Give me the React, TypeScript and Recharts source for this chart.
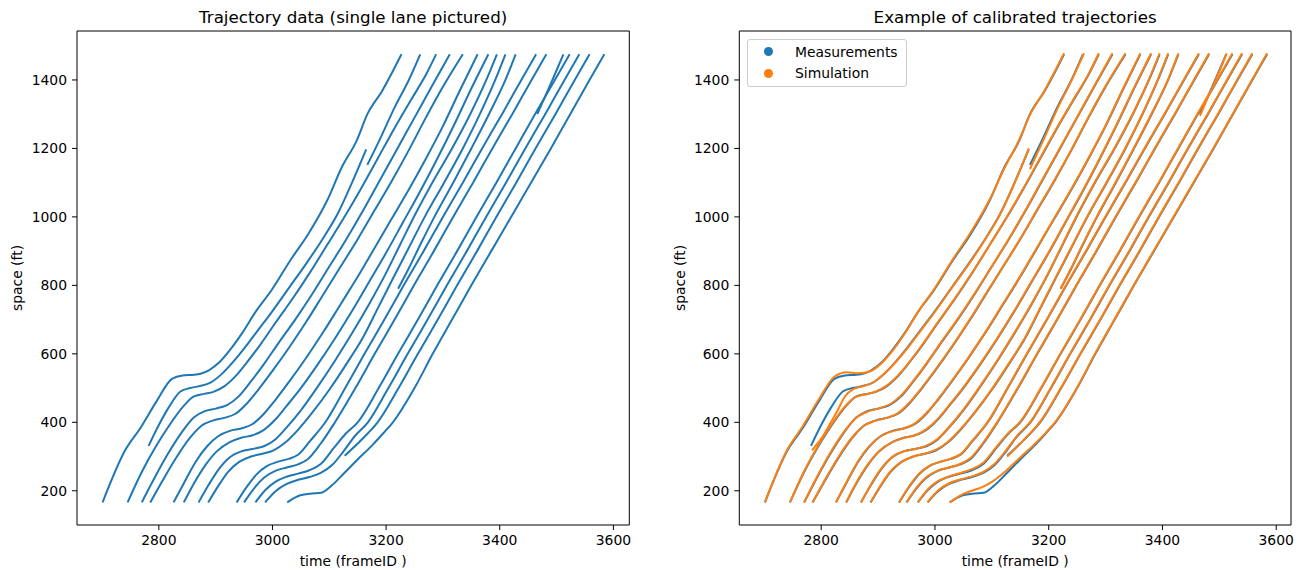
import { LineChart, Line, XAxis, YAxis, ReferenceLine, Legend } from 'recharts'

// ---- measured trajectories, [frameID, space ft] ----
const trajA = [[2701,166],[2741,319],[2767,382],[2797,464],[2823,527],[2842,537],[2862,539],[2888,552],[2907,576],[2927,615],[2946,659],[2972,727],[2998,785],[3031,872],[3063,950],[3096,1047],[3122,1145],[3148,1222],[3167,1300],[3193,1368],[3227,1475]]
const trajN = [[2782,331],[2800,392],[2818,445],[2838,490],[2855,500],[2870,505],[2890,515],[2910,540],[2930,575],[2950,615],[2975,670],[3000,725],[3030,795],[3060,865],[3090,940],[3115,1010],[3140,1100],[3165,1197]]
const trajB = [[2745,166],[2770,255],[2795,330],[2820,395],[2845,450],[2861,475],[2880,483],[2896,489],[2915,505],[2935,535],[2955,575],[2980,630],[3005,690],[3035,760],[3065,835],[3095,915],[3125,995],[3155,1080],[3185,1170],[3215,1260],[3245,1345],[3270,1415],[3288,1475]]
const trajQ = [[3167,1152],[3190,1230],[3215,1320],[3240,1400],[3260,1475]]
const trajC = [[2770,166],[2790,230],[2815,305],[2840,370],[2862,415],[2880,432],[2900,440],[2920,450],[2940,475],[2960,515],[2985,570],[3010,630],[3040,700],[3070,775],[3100,855],[3130,935],[3160,1020],[3190,1110],[3220,1200],[3250,1290],[3280,1380],[3312,1475]]
const trajD = [[2785,166],[2805,225],[2830,295],[2855,355],[2875,390],[2895,405],[2915,413],[2935,425],[2955,455],[2975,495],[3000,550],[3030,620],[3060,695],[3090,775],[3120,855],[3150,935],[3180,1020],[3210,1105],[3240,1195],[3270,1290],[3300,1380],[3335,1475]]
const trajE = [[2826,166],[2845,225],[2865,285],[2885,330],[2905,360],[2925,375],[2945,382],[2965,395],[2985,425],[3005,465],[3030,520],[3060,590],[3090,665],[3120,745],[3150,825],[3180,910],[3210,995],[3240,1080],[3270,1170],[3300,1265],[3330,1370],[3361,1475]]
const trajF = [[2844,166],[2862,222],[2882,275],[2902,315],[2925,342],[2945,355],[2965,362],[2985,378],[3005,408],[3025,448],[3050,500],[3080,570],[3110,645],[3140,725],[3170,810],[3200,895],[3230,985],[3260,1075],[3290,1170],[3320,1270],[3350,1375],[3380,1475]]
const trajG = [[2870,166],[2888,218],[2905,262],[2925,298],[2945,315],[2965,322],[2985,330],[3005,350],[3025,385],[3050,435],[3080,505],[3110,580],[3140,660],[3170,745],[3198,830],[3225,920],[3252,1010],[3283,1105],[3316,1200],[3348,1300],[3375,1395],[3395,1475]]
const trajH = [[2887,166],[2905,215],[2922,255],[2942,285],[2962,300],[2982,308],[3002,318],[3022,340],[3045,378],[3070,428],[3100,495],[3130,570],[3160,650],[3186,735],[3212,820],[3240,910],[3268,1000],[3302,1100],[3335,1200],[3365,1300],[3392,1400],[3410,1475]]
const trajP = [[3221,790],[3240,850],[3262,925],[3285,1000],[3318,1100],[3350,1200],[3381,1300],[3410,1400],[3428,1475]]
const trajI = [[2937,166],[2955,212],[2972,248],[2990,272],[3010,285],[3028,293],[3045,305],[3066,345],[3093,400],[3128,500],[3162,600],[3197,700],[3231,800],[3266,900],[3300,1000],[3335,1100],[3369,1200],[3404,1300],[3438,1400],[3464,1475]]
const trajJ = [[2950,166],[2968,208],[2985,238],[3005,258],[3025,268],[3045,277],[3062,292],[3085,338],[3110,400],[3146,500],[3180,600],[3215,700],[3249,800],[3284,900],[3318,1000],[3353,1100],[3387,1200],[3422,1300],[3456,1400],[3482,1475]]
const trajK = [[2970,166],[2988,203],[3005,226],[3025,241],[3045,250],[3065,260],[3085,278],[3108,325],[3128,365],[3150,400],[3187,500],[3221,600],[3256,700],[3290,800],[3325,900],[3359,1000],[3394,1100],[3428,1200],[3462,1300],[3497,1400],[3523,1475]]
const trajR = [[3466,1300],[3480,1352],[3494,1405],[3512,1475]]
const trajL = [[2987,166],[3005,198],[3025,220],[3045,232],[3065,240],[3085,252],[3105,275],[3125,315],[3145,360],[3168,400],[3204,500],[3238,600],[3273,700],[3307,800],[3342,900],[3376,1000],[3411,1100],[3445,1200],[3480,1300],[3514,1400],[3540,1475]]
const trajO = [[3127,302],[3150,338],[3168,368],[3185,400],[3222,500],[3256,600],[3291,700],[3325,800],[3360,900],[3394,1000],[3429,1100],[3463,1200],[3498,1300],[3532,1400],[3558,1475]]
const trajM = [[3026,166],[3049,187],[3070,192],[3085,194],[3102,212],[3126,251],[3149,290],[3175,332],[3195,368],[3212,400],[3250,500],[3282,600],[3316,700],[3350,800],[3385,900],[3420,1000],[3455,1100],[3490,1200],[3524,1300],[3558,1400],[3584,1475]]

// ---- simulated (calibrated) trajectories ----
const simA = [[2701,166],[2741,322],[2767,387],[2797,470],[2823,533],[2845,546],[2865,543],[2888,550],[2907,574],[2927,612],[2946,657],[2972,727],[2998,788],[3031,875],[3063,955],[3096,1050],[3122,1142],[3148,1225],[3167,1298],[3193,1370],[3227,1478]]
const simN = [[2784,318],[2788,327],[2798,347],[2812,385],[2828,432],[2842,476],[2858,498],[2875,506],[2892,517],[2910,541],[2930,574],[2950,613],[2975,668],[3000,723],[3030,794],[3060,863],[3090,939],[3115,1009],[3140,1099],[3165,1200]]
const simB = [[2745,166],[2770,257],[2795,333],[2820,398],[2845,452],[2861,474],[2880,482],[2896,490],[2915,507],[2935,537],[2955,576],[2980,632],[3005,692],[3035,762],[3065,836],[3095,915],[3125,996],[3155,1082],[3185,1172],[3215,1262],[3245,1347],[3270,1417],[3288,1478]]
const simQ = [[3167,1140],[3190,1222],[3215,1315],[3240,1398],[3262,1478]]
const simC = [[2770,166],[2790,232],[2815,308],[2840,372],[2862,414],[2880,430],[2900,440],[2920,452],[2940,478],[2960,517],[2985,572],[3010,632],[3040,702],[3070,777],[3100,856],[3130,936],[3160,1022],[3190,1112],[3220,1202],[3250,1292],[3280,1382],[3312,1478]]
const simD = [[2785,166],[2805,227],[2830,298],[2855,357],[2875,390],[2895,404],[2915,413],[2935,427],[2955,457],[2975,497],[3000,552],[3030,622],[3060,697],[3090,777],[3120,856],[3150,936],[3180,1022],[3210,1107],[3240,1197],[3270,1292],[3300,1382],[3335,1478]]
const simE = [[2826,166],[2845,227],[2865,287],[2885,331],[2905,360],[2925,374],[2945,382],[2965,397],[2985,427],[3005,467],[3030,522],[3060,592],[3090,667],[3120,747],[3150,827],[3180,912],[3210,997],[3240,1082],[3270,1172],[3300,1267],[3330,1372],[3361,1478]]
const simF = [[2844,166],[2862,224],[2882,277],[2902,316],[2925,342],[2945,354],[2965,362],[2985,380],[3005,410],[3025,450],[3050,502],[3080,572],[3110,647],[3140,727],[3170,812],[3200,897],[3230,987],[3260,1077],[3290,1172],[3320,1272],[3350,1377],[3380,1478]]
const simG = [[2870,166],[2888,220],[2905,264],[2925,299],[2945,315],[2965,322],[2985,332],[3005,352],[3025,387],[3050,437],[3080,507],[3110,582],[3140,662],[3170,747],[3198,832],[3225,922],[3252,1012],[3283,1107],[3316,1202],[3348,1302],[3375,1397],[3395,1478]]
const simH = [[2887,166],[2905,217],[2922,257],[2942,286],[2962,300],[2982,308],[3002,320],[3022,342],[3045,380],[3070,430],[3100,497],[3130,572],[3160,652],[3186,737],[3212,822],[3240,912],[3268,1002],[3302,1102],[3335,1202],[3365,1302],[3392,1402],[3410,1478]]
const simP = [[3221,790],[3240,852],[3262,927],[3285,1002],[3318,1102],[3350,1202],[3381,1302],[3410,1402],[3428,1478]]
const simI = [[2937,166],[2955,214],[2972,250],[2990,273],[3010,285],[3028,294],[3045,307],[3066,347],[3093,402],[3128,502],[3162,602],[3197,702],[3231,802],[3266,902],[3300,1002],[3335,1102],[3369,1202],[3404,1302],[3438,1402],[3464,1478]]
const simJ = [[2950,166],[2968,210],[2985,240],[3005,259],[3025,268],[3045,279],[3062,295],[3085,341],[3110,402],[3146,502],[3180,602],[3215,702],[3249,802],[3284,902],[3318,1002],[3353,1102],[3387,1202],[3422,1302],[3456,1402],[3482,1478]]
const simK = [[2970,166],[2988,205],[3005,228],[3025,242],[3045,252],[3065,263],[3085,282],[3108,328],[3128,367],[3150,402],[3187,502],[3221,602],[3256,702],[3290,802],[3325,902],[3359,1002],[3394,1102],[3428,1202],[3462,1302],[3497,1402],[3523,1478]]
const simR = [[3466,1295],[3480,1350],[3494,1402],[3513,1478]]
const simL = [[2987,166],[3005,200],[3025,222],[3045,233],[3065,242],[3085,255],[3105,279],[3125,318],[3145,362],[3168,402],[3204,502],[3238,602],[3273,702],[3307,802],[3342,902],[3376,1002],[3411,1102],[3445,1202],[3480,1302],[3514,1402],[3540,1478]]
const simO = [[3127,300],[3150,338],[3168,369],[3185,402],[3222,502],[3256,602],[3291,702],[3325,802],[3360,902],[3394,1002],[3429,1102],[3463,1202],[3498,1302],[3532,1402],[3558,1478]]
const simM = [[3026,166],[3049,190],[3070,203],[3085,212],[3102,228],[3126,260],[3149,296],[3175,336],[3195,370],[3212,402],[3250,502],[3282,602],[3316,702],[3350,802],[3385,902],[3420,1002],[3455,1102],[3490,1202],[3524,1302],[3558,1402],[3584,1478]]

const measured = [trajA, trajN, trajB, trajQ, trajC, trajD, trajE, trajF, trajG, trajH, trajP, trajI, trajJ, trajK, trajR, trajL, trajO, trajM]
const simulated = [simA, simN, simB, simQ, simC, simD, simE, simF, simG, simH, simP, simI, simJ, simK, simR, simL, simO, simM]

const xTicks = [2800, 3000, 3200, 3400, 3600]
const yTicks = [200, 400, 600, 800, 1000, 1200, 1400]

const BLUE = '#1f77b4'
const ORANGE = '#ff7f0e'
const FONT = '"DejaVu Sans", sans-serif'

const toPts = (a: number[][]) => a.map(([t, s]) => ({ t, s }))

const tickStyle = { fontSize: 13.9, fill: '#000', fontFamily: FONT }

function LegendBox() {
  const row = (color: string, label: string, top: number) => (
    <div style={{ position: 'absolute', left: 0, top, height: 0 }}>
      <span style={{ position: 'absolute', left: 16.5, top: -4.5, width: 9, height: 9, borderRadius: '50%', background: color }} />
      <span style={{ position: 'absolute', left: 47.3, top: -9, lineHeight: '18px', whiteSpace: 'nowrap', fontSize: 13.9, fontFamily: FONT, color: '#000' }}>{label}</span>
    </div>
  )
  return (
    <div style={{ position: 'relative', width: 160, height: 47.4, boxSizing: 'border-box', border: '1px solid #cccccc', borderRadius: 3, background: 'rgba(255,255,255,0.8)' }}>
      {row(BLUE, 'Measurements', 11.7)}
      {row(ORANGE, 'Simulation', 33)}
    </div>
  )
}

function Panel({ left, yAxisW, rightM, xMax, labelOff, title, withSim }: { left: number; yAxisW: number; rightM: number; xMax: number; labelOff: number; title: string; withSim: boolean }) {
  const plotL = left + yAxisW
  const plotR = left + 652 - rightM
  return (
    <div style={{ position: 'absolute', left, top: 0, width: 652, height: 570 }}>
      <div style={{ position: 'absolute', left: plotL - left, width: plotR - plotL, top: 8.6, textAlign: 'center', fontFamily: FONT, fontSize: 16.7, lineHeight: '16.7px', whiteSpace: 'nowrap', color: '#000' }}>{title}</div>
      <LineChart width={652} height={570} margin={{ top: 31, right: rightM, bottom: 0, left: 0 }}>
        <XAxis type="number" dataKey="t" domain={[2656, xMax]} allowDataOverflow ticks={xTicks} height={45}
          tick={tickStyle} tickSize={5} tickMargin={5} stroke="#000"
          label={{ value: 'time (frameID )', position: 'insideBottom', offset: 4, style: { fontSize: 13.9, fontFamily: FONT, fill: '#000' } }} />
        <YAxis type="number" dataKey="s" domain={[100, 1543]} allowDataOverflow ticks={yTicks} width={yAxisW}
          tick={tickStyle} tickSize={5} tickMargin={5} stroke="#000"
          label={{ value: 'space (ft)', angle: -90, position: 'insideLeft', offset: labelOff, style: { fontSize: 13.9, fontFamily: FONT, fill: '#000', textAnchor: 'middle' } }} />
        <ReferenceLine y={1543} stroke="#000" strokeWidth={1} />
        <ReferenceLine x={xMax} stroke="#000" strokeWidth={1} />
        {measured.map((tr, i) => (
          <Line key={'m' + i} data={toPts(tr)} dataKey="s" type="monotone" stroke={BLUE} strokeWidth={2} dot={false} isAnimationActive={false} />
        ))}
        {withSim && simulated.map((tr, i) => (
          <Line key={'s' + i} data={toPts(tr)} dataKey="s" type="monotone" stroke={ORANGE} strokeWidth={2} dot={false} isAnimationActive={false} />
        ))}
        {withSim && (
          <Legend layout="vertical" align="center" verticalAlign="middle"
            wrapperStyle={{ left: 746.7 - left, top: 39.3, width: 160 }}
            content={() => <LegendBox />} />
        )}
      </LineChart>
    </div>
  )
}

export default function App() {
  return (
    <div style={{ position: 'absolute', left: 0, top: 0, width: 1304, height: 570, background: '#fff' }}>
      <Panel left={0} yAxisW={77} rightM={22.7} xMax={3628} labelOff={17} title="Trajectory data (single lane pictured)" withSim={false} />
      <Panel left={652} yAxisW={87.3} rightM={13} xMax={3626} labelOff={28} title="Example of calibrated trajectories" withSim={true} />
    </div>
  )
}
